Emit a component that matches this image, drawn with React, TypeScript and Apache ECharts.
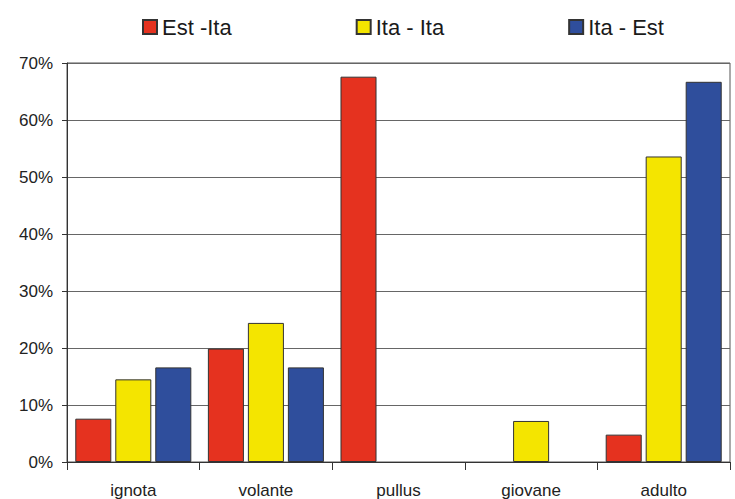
import React, { useEffect, useRef } from "react";
import * as echarts from "echarts";

const categories = ["ignota", "volante", "pullus", "giovane", "adulto"];
const seriesNames = ["Est -Ita", "Ita - Ita", "Ita - Est"];
const estIta = [7.6, 19.9, 67.6, null, 4.8];
const itaIta = [14.5, 24.4, null, 7.2, 53.6];
const itaEst = [16.6, 16.6, null, null, 66.7];
const colors = ["#e5321f", "#f4e500", "#2f4e9c"];
const yMax = 70;
const yInterval = 10;

export default function App() {
  const ref = useRef<HTMLDivElement>(null);
  useEffect(() => {
    if (!ref.current) return;
    const chart = echarts.init(ref.current, undefined, { renderer: "svg" });
    const font = "'Liberation Sans', Arial, sans-serif";
    const values = [estIta, itaIta, itaEst];
    chart.setOption({
      animation: false,
      backgroundColor: "#ffffff",
      legend: {
        left: 137,
        top: 11,
        itemWidth: 14,
        itemHeight: 14,
        itemGap: 124,
        icon: "rect",
        textStyle: { fontFamily: font, fontSize: 22, color: "#1a1a1a", padding: [0, 0, 0, 0] },
        data: seriesNames,
      },
      grid: {
        left: 67,
        right: 5,
        top: 63,
        bottom: 35,
        show: true,
        borderColor: "#555",
        borderWidth: 1,
        containLabel: false,
      },
      xAxis: {
        type: "category",
        data: categories,
        boundaryGap: true,
        axisLine: { show: true, lineStyle: { color: "#333", width: 1 } },
        axisTick: { show: true, length: 8, alignWithLabel: false, lineStyle: { color: "#333" } },
        axisLabel: {
          margin: 20,
          fontFamily: font,
          fontSize: 17,
          color: "#222",
          verticalAlign: "top",
        },
      },
      yAxis: {
        type: "value",
        min: 0,
        max: yMax,
        interval: yInterval,
        axisLine: { show: true, lineStyle: { color: "#333", width: 1 } },
        axisTick: { show: true, length: 5, lineStyle: { color: "#333" } },
        axisLabel: {
          margin: 14,
          fontFamily: font,
          fontSize: 17,
          color: "#222",
          formatter: "{value}%",
        },
        splitLine: { show: true, lineStyle: { color: "#666", width: 1 } },
      },
      series: seriesNames.map((name, i) => ({
        name,
        type: "bar",
        data: values[i],
        barCategoryGap: "12.5%",
        barGap: "11%",
        itemStyle: { color: colors[i], borderColor: "#333", borderWidth: 1 },
      })),
    });
    return () => chart.dispose();
  }, []);
  return (
    <div
      ref={ref}
      style={{ position: "absolute", left: 0, top: 0, width: 735, height: 499 }}
    />
  );
}
